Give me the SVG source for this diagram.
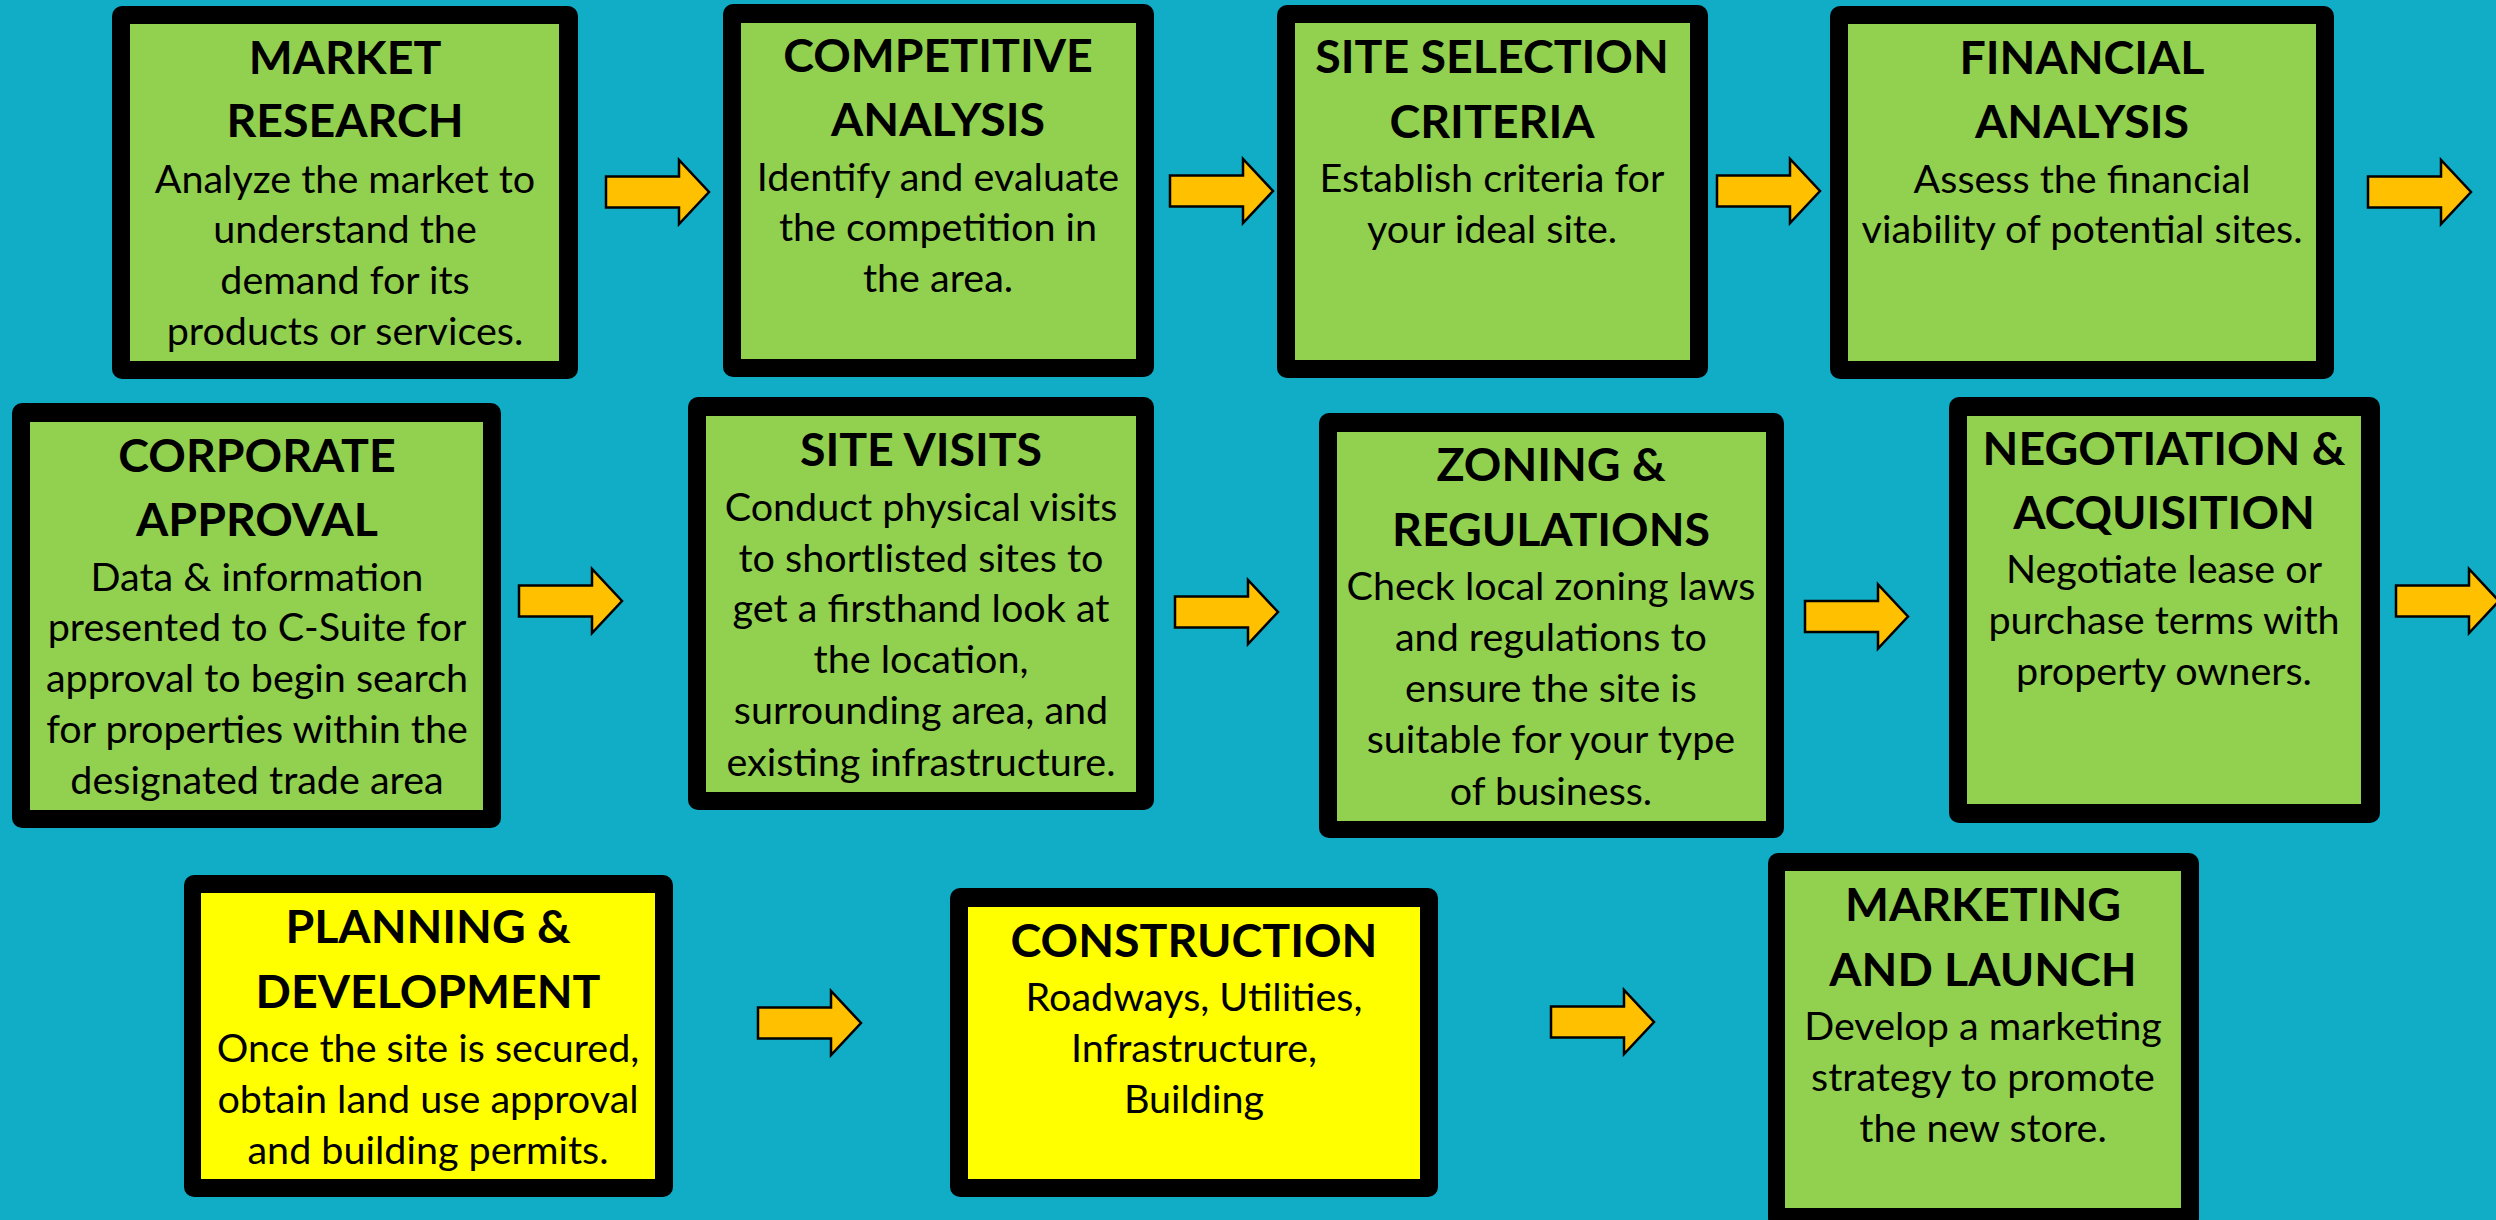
<svg xmlns="http://www.w3.org/2000/svg" xmlns:xlink="http://www.w3.org/1999/xlink" width="2496" height="1220" viewBox="0 0 2496 1220">
<style>
.frame{fill:#000000}
.green{fill:#92D050}
.yellow{fill:#FFFF00}
.t{font-family:Lato,"Open Sans","Liberation Sans",sans-serif;font-weight:700;font-size:46.5px;fill:#000;text-anchor:middle}
.b{font-family:Lato,"Open Sans","Liberation Sans",sans-serif;font-weight:400;font-size:39.5px;fill:#000;text-anchor:middle}
.arrow{fill:#FFC000;stroke:#000;stroke-width:2.5;stroke-linejoin:miter}
</style>
<defs>
<path id="arr" d="M0,-15.5 H73 V-32 L103,0 L73,32 V15.5 H0 Z"/>
</defs>
<rect width="2496" height="1220" fill="#11ACC6"/>

<g id="connectors">
<use xlink:href="#arr" href="#arr" class="arrow" transform="translate(606,192)"/>
<use xlink:href="#arr" href="#arr" class="arrow" transform="translate(1170,191)"/>
<use xlink:href="#arr" href="#arr" class="arrow" transform="translate(1717,191)"/>
<use xlink:href="#arr" href="#arr" class="arrow" transform="translate(2368,192)"/>
<use xlink:href="#arr" href="#arr" class="arrow" transform="translate(519,601)"/>
<use xlink:href="#arr" href="#arr" class="arrow" transform="translate(1175,612)"/>
<use xlink:href="#arr" href="#arr" class="arrow" transform="translate(1805,616.5)"/>
<use xlink:href="#arr" href="#arr" class="arrow" transform="translate(2396,601)"/>
<use xlink:href="#arr" href="#arr" class="arrow" transform="translate(758,1023)"/>
<use xlink:href="#arr" href="#arr" class="arrow" transform="translate(1551,1022)"/>
</g>

<g id="market-research">
<rect class="frame" x="112" y="6" width="466" height="373" rx="10"/>
<rect class="green" x="130" y="24" width="429" height="337"/>
<text class="t" x="345" y="74">MARKET</text>
<text class="t" x="345" y="137">RESEARCH</text>
<text class="b" x="345" y="193">Analyze the market to</text>
<text class="b" x="345" y="243">understand the</text>
<text class="b" x="345" y="294">demand for its</text>
<text class="b" x="345" y="345">products or services.</text>
</g>

<g id="competitive-analysis">
<rect class="frame" x="723" y="4" width="431" height="373" rx="10"/>
<rect class="green" x="741" y="23" width="395" height="336"/>
<text class="t" x="938" y="72">COMPETITIVE</text>
<text class="t" x="938" y="136">ANALYSIS</text>
<text class="b" x="938" y="191">Identify and evaluate</text>
<text class="b" x="938" y="241">the competition in</text>
<text class="b" x="938" y="292">the area.</text>
</g>

<g id="site-selection-criteria">
<rect class="frame" x="1277" y="5" width="431" height="373" rx="10"/>
<rect class="green" x="1295" y="23" width="395" height="337"/>
<text class="t" x="1492" y="73">SITE SELECTION</text>
<text class="t" x="1492" y="138">CRITERIA</text>
<text class="b" x="1492" y="192">Establish criteria for</text>
<text class="b" x="1492" y="243">your ideal site.</text>
</g>

<g id="financial-analysis">
<rect class="frame" x="1830" y="6" width="504" height="373" rx="10"/>
<rect class="green" x="1848" y="24" width="468" height="337"/>
<text class="t" x="2082" y="74">FINANCIAL</text>
<text class="t" x="2082" y="138">ANALYSIS</text>
<text class="b" x="2082" y="193">Assess the financial</text>
<text class="b" x="2082" y="243">viability of potential sites.</text>
</g>

<g id="corporate-approval">
<rect class="frame" x="12" y="403" width="489" height="425" rx="10"/>
<rect class="green" x="30" y="422" width="453" height="388"/>
<text class="t" x="257" y="472">CORPORATE</text>
<text class="t" x="257" y="536">APPROVAL</text>
<text class="b" x="257" y="591">Data &amp; information</text>
<text class="b" x="257" y="641">presented to C-Suite for</text>
<text class="b" x="257" y="692">approval to begin search</text>
<text class="b" x="257" y="743">for properties within the</text>
<text class="b" x="257" y="794">designated trade area</text>
</g>

<g id="site-visits">
<rect class="frame" x="688" y="397" width="466" height="413" rx="10"/>
<rect class="green" x="706" y="416" width="430" height="376"/>
<text class="t" x="921" y="466">SITE VISITS</text>
<text class="b" x="921" y="521">Conduct physical visits</text>
<text class="b" x="921" y="572">to shortlisted sites to</text>
<text class="b" x="921" y="622">get a firsthand look at</text>
<text class="b" x="921" y="673">the location,</text>
<text class="b" x="921" y="724">surrounding area, and</text>
<text class="b" x="921" y="776">existing infrastructure.</text>
</g>

<g id="zoning-regulations">
<rect class="frame" x="1319" y="413" width="465" height="425" rx="10"/>
<rect class="green" x="1337" y="432" width="429" height="389"/>
<text class="t" x="1551" y="481">ZONING &amp;</text>
<text class="t" x="1551" y="546">REGULATIONS</text>
<text class="b" x="1551" y="600">Check local zoning laws</text>
<text class="b" x="1551" y="651">and regulations to</text>
<text class="b" x="1551" y="702">ensure the site is</text>
<text class="b" x="1551" y="753">suitable for your type</text>
<text class="b" x="1551" y="805">of business.</text>
</g>

<g id="negotiation-acquisition">
<rect class="frame" x="1949" y="397" width="431" height="426" rx="10"/>
<rect class="green" x="1967" y="416" width="394" height="388"/>
<text class="t" x="2164" y="465">NEGOTIATION &amp;</text>
<text class="t" x="2164" y="529">ACQUISITION</text>
<text class="b" x="2164" y="583">Negotiate lease or</text>
<text class="b" x="2164" y="634">purchase terms with</text>
<text class="b" x="2164" y="685">property owners.</text>
</g>

<g id="planning-development">
<rect class="frame" x="184" y="875" width="489" height="322" rx="10"/>
<rect class="yellow" x="201" y="893" width="454" height="286"/>
<text class="t" x="428" y="943">PLANNING &amp;</text>
<text class="t" x="428" y="1008">DEVELOPMENT</text>
<text class="b" x="428" y="1062">Once the site is secured,</text>
<text class="b" x="428" y="1113">obtain land use approval</text>
<text class="b" x="428" y="1164">and building permits.</text>
</g>

<g id="construction">
<rect class="frame" x="950" y="888" width="488" height="309" rx="10"/>
<rect class="yellow" x="968" y="907" width="452" height="272"/>
<text class="t" x="1194" y="957">CONSTRUCTION</text>
<text class="b" x="1194" y="1011">Roadways, Utilities,</text>
<text class="b" x="1194" y="1062">Infrastructure,</text>
<text class="b" x="1194" y="1113">Building</text>
</g>

<g id="marketing-launch">
<rect class="frame" x="1768" y="853" width="431" height="375" rx="10"/>
<rect class="green" x="1785" y="871" width="396" height="337"/>
<text class="t" x="1983" y="921">MARKETING</text>
<text class="t" x="1983" y="986">AND LAUNCH</text>
<text class="b" x="1983" y="1040">Develop a marketing</text>
<text class="b" x="1983" y="1091">strategy to promote</text>
<text class="b" x="1983" y="1142">the new store.</text>
</g>
</svg>
